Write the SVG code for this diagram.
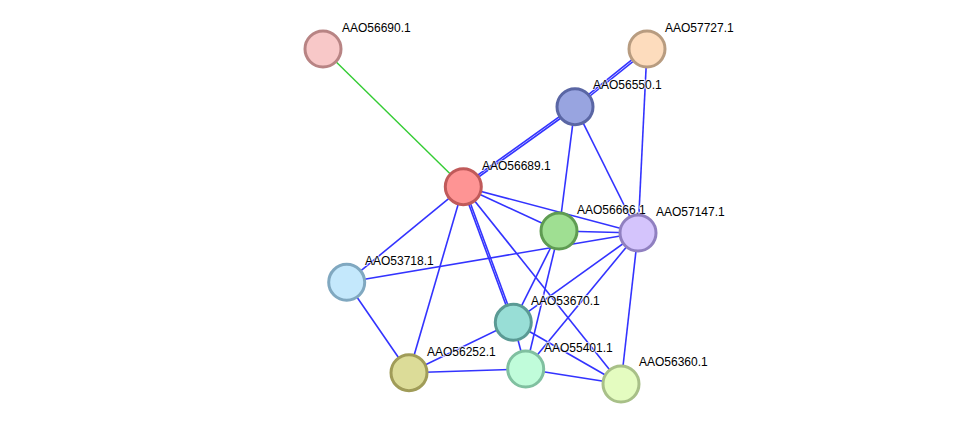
<svg xmlns="http://www.w3.org/2000/svg" width="975" height="429" viewBox="0 0 975 429">
<style>
.e{stroke:#3333ff;stroke-width:1.6;fill:none}
.g{stroke:#33cc33;stroke-width:1.4;fill:none}
.n{stroke-width:3}
.t{font-family:"Liberation Sans",Arial,sans-serif;font-size:12px;fill:#000;stroke:#fff;stroke-width:2;stroke-opacity:0.7;paint-order:stroke}
</style>
<rect width="975" height="429" fill="#fff"/>
<g id="edges">
<line class="g" x1="323" y1="49" x2="463.3" y2="186.7"/>
<line class="e" x1="646.4" y1="48.2" x2="574.4" y2="105.9"/>
<line class="e" x1="647.6" y1="49.8" x2="575.6" y2="107.5"/>
<line class="e" x1="647" y1="49" x2="638" y2="233"/>
<line class="e" x1="574.4" y1="105.9" x2="462.7" y2="185.9"/>
<line class="e" x1="575.6" y1="107.5" x2="463.9" y2="187.5"/>
<line class="e" x1="575" y1="106.7" x2="559" y2="231"/>
<line class="e" x1="575" y1="106.7" x2="638" y2="233"/>
<line class="e" x1="463.3" y1="186.7" x2="559" y2="231"/>
<line class="e" x1="463.3" y1="186.7" x2="638" y2="233"/>
<line class="e" x1="463.3" y1="186.7" x2="346.7" y2="282.3"/>
<line class="e" x1="463.3" y1="186.7" x2="409" y2="372.7"/>
<line class="e" x1="462.4" y1="186.9" x2="512.4" y2="322.5"/>
<line class="e" x1="464.2" y1="186.5" x2="514.2" y2="322.1"/>
<line class="e" x1="463.3" y1="186.7" x2="621" y2="384"/>
<line class="e" x1="559" y1="231" x2="638" y2="233"/>
<line class="e" x1="346.7" y1="282.3" x2="638" y2="233"/>
<line class="e" x1="559" y1="231" x2="513.3" y2="322.3"/>
<line class="e" x1="559" y1="231" x2="525.7" y2="369"/>
<line class="e" x1="638" y1="233" x2="513.3" y2="322.3"/>
<line class="e" x1="638" y1="233" x2="525.7" y2="369"/>
<line class="e" x1="638" y1="233" x2="621" y2="384"/>
<line class="e" x1="513.3" y1="322.3" x2="409" y2="372.7"/>
<line class="e" x1="513.3" y1="322.3" x2="525.7" y2="369"/>
<line class="e" x1="513.3" y1="322.3" x2="621" y2="384"/>
<line class="e" x1="409" y1="372.7" x2="525.7" y2="369"/>
<line class="e" x1="525.7" y1="369" x2="621" y2="384"/>
<line class="e" x1="346.7" y1="282.3" x2="409" y2="372.7"/>
</g>
<g id="AAO56690.1"><circle class="n" cx="323" cy="49" r="18" fill="#f8c8c8" stroke="#b88484"/><text class="t" x="342" y="32">AAO56690.1</text></g>
<g id="AAO57727.1"><circle class="n" cx="647" cy="49" r="18" fill="#fddcbd" stroke="#b89c80"/><text class="t" x="665" y="32">AAO57727.1</text></g>
<g id="AAO56550.1"><circle class="n" cx="575" cy="106.7" r="18" fill="#98a4e0" stroke="#5a66a4"/><text class="t" x="593" y="89">AAO56550.1</text></g>
<g id="AAO56689.1"><circle class="n" cx="463.3" cy="186.7" r="18" fill="#fe9494" stroke="#c05a5a"/><text class="t" x="482" y="170">AAO56689.1</text></g>
<g id="AAO56666.1"><circle class="n" cx="559" cy="231" r="18" fill="#9fdf92" stroke="#5f9c52"/><text class="t" x="577" y="214">AAO56666.1</text></g>
<g id="AAO57147.1"><circle class="n" cx="638" cy="233" r="18" fill="#d4c4fc" stroke="#9080c0"/><text class="t" x="656" y="216">AAO57147.1</text></g>
<g id="AAO53718.1"><circle class="n" cx="346.7" cy="282.3" r="18" fill="#c4e8fc" stroke="#80a8c0"/><text class="t" x="365" y="265">AAO53718.1</text></g>
<g id="AAO53670.1"><circle class="n" cx="513.3" cy="322.3" r="18" fill="#98ded6" stroke="#5a9a94"/><text class="t" x="531" y="305">AAO53670.1</text></g>
<g id="AAO56252.1"><circle class="n" cx="409" cy="372.7" r="18" fill="#dcdc98" stroke="#a09c58"/><text class="t" x="427" y="356">AAO56252.1</text></g>
<g id="AAO55401.1"><circle class="n" cx="525.7" cy="369" r="18" fill="#c0fcda" stroke="#80c0a0"/><text class="t" x="544" y="352">AAO55401.1</text></g>
<g id="AAO56360.1"><circle class="n" cx="621" cy="384" r="18" fill="#e4fcc0" stroke="#a8c088"/><text class="t" x="639" y="366">AAO56360.1</text></g>
</svg>
